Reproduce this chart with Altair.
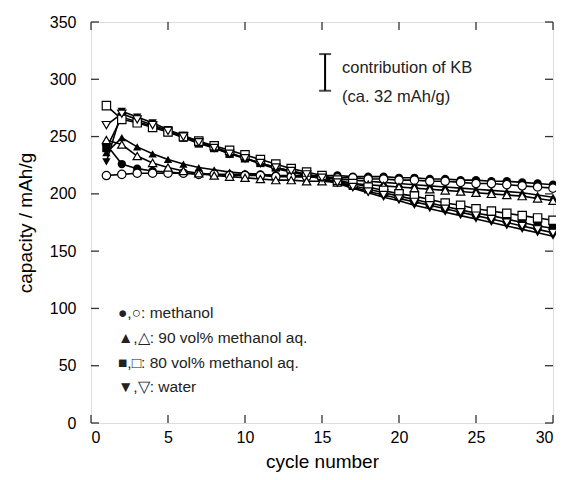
import altair as alt
import pandas as pd

cycles = list(range(1, 31))

methanol_filled = [243, 226, 222, 220, 219, 218, 218, 217, 217, 217, 217, 216, 216, 216, 216,
                   216, 215, 215, 215, 214, 214, 213, 213, 212, 212, 211, 211, 210, 209, 208]
methanol_open = [216, 217, 218, 218, 218, 218, 217, 217, 216, 216, 216, 215, 215, 215, 215,
                 214, 214, 213, 213, 212, 212, 211, 211, 210, 209, 209, 208, 207, 206, 205]
m90_filled = [236, 249, 241, 235, 230, 226, 223, 221, 219, 218, 217, 216, 215, 215, 214,
              213, 212, 211, 210, 209, 208, 207, 206, 205, 204, 203, 202, 201, 199, 197]
m90_open = [247, 243, 233, 227, 223, 220, 218, 216, 215, 214, 213, 212, 212, 211, 211,
            210, 209, 208, 207, 206, 205, 204, 203, 202, 201, 200, 199, 198, 196, 194]
m80_filled = [240, 267, 263, 259, 254, 249, 244, 240, 235, 231, 227, 223, 220, 217, 214,
              210, 207, 204, 201, 198, 195, 192, 189, 186, 183, 181, 178, 175, 172, 170]
m80_open = [277, 265, 262, 258, 254, 250, 246, 242, 238, 234, 230, 226, 222, 219, 216,
            212, 209, 206, 203, 200, 198, 195, 192, 190, 187, 185, 183, 181, 179, 177]
water_filled = [228, 272, 267, 262, 256, 251, 246, 241, 236, 231, 226, 222, 219, 216, 213,
                209, 205, 201, 197, 194, 190, 187, 184, 181, 178, 175, 172, 169, 166, 163]
water_open = [260, 270, 265, 260, 255, 250, 245, 240, 235, 231, 227, 223, 220, 217, 214,
              210, 206, 202, 199, 196, 193, 190, 187, 184, 181, 178, 175, 172, 169, 166]

series = [
    ("methanol", "filled", methanol_filled),
    ("methanol", "open", methanol_open),
    ("90", "filled", m90_filled),
    ("90", "open", m90_open),
    ("80", "filled", m80_filled),
    ("80", "open", m80_open),
    ("water", "filled", water_filled),
    ("water", "open", water_open),
]
solvents = ["methanol", "90", "80", "water"]
shapes = ["circle", "triangle-up", "square", "triangle-down"]

legend_lines = ["●,○: methanol", "▲,△: 90 vol% methanol aq.",
                "■,□: 80 vol% methanol aq.", "▼,▽: water"]
kb_bar = {"x": 15.2, "low": 290, "high": 322}
kb_text = ["contribution of KB", "(ca. 32 mAh/g)"]

x_ticks = [0, 5, 10, 15, 20, 25, 30]
y_ticks = [0, 50, 100, 150, 200, 250, 300, 350]

rows = []
for solv, kind, vals in series:
    for c, v in zip(cycles, vals):
        rows.append({"cycle": c, "cap": v, "solvent": solv, "kind": kind, "sid": solv + kind})
df = pd.DataFrame(rows)

W, H = 462, 401
FONT = "Liberation Sans"
TL = 8

xs = alt.Scale(domain=[0, 30], nice=False)
ys = alt.Scale(domain=[0, 350], nice=False)

base = alt.Chart(df)
lines = base.mark_line(color="black", strokeWidth=1.6).encode(
    x=alt.X("cycle:Q", scale=xs, axis=alt.Axis(values=x_ticks, title="cycle number", ticks=False,
                                               domain=False, grid=False, labelPadding=6,
                                               labelFontSize=16, titleFontSize=19,
                                               titleFontWeight="normal", titlePadding=7)),
    y=alt.Y("cap:Q", scale=ys, axis=alt.Axis(values=y_ticks, title="capacity / mAh/g", ticks=False,
                                             domain=False, grid=False, labelPadding=15,
                                             labelFontSize=16, titleFontSize=19,
                                             titleFontWeight="normal", titlePadding=14)),
    detail="sid:N",
)

shape_enc = alt.Shape("solvent:N", scale=alt.Scale(domain=solvents, range=shapes), legend=None)

filled_pts = base.transform_filter(alt.datum.kind == "filled").mark_point(
    filled=True, color="black", size=70, opacity=1).encode(
    x=alt.X("cycle:Q", scale=xs), y=alt.Y("cap:Q", scale=ys), shape=shape_enc)
open_pts = base.transform_filter(alt.datum.kind == "open").mark_point(
    filled=True, fill="white", stroke="black", strokeWidth=1.2, size=70, opacity=1).encode(
    x=alt.X("cycle:Q", scale=xs), y=alt.Y("cap:Q", scale=ys), shape=shape_enc)

xt = alt.Chart(pd.DataFrame({"v": x_ticks}))
yt = alt.Chart(pd.DataFrame({"v": y_ticks}))
tick_style = dict(color="#333", strokeWidth=1.3)
ticks = (
    xt.mark_rule(**tick_style).encode(x=alt.X("v:Q", scale=xs), y=alt.value(H), y2=alt.value(H - TL))
    + xt.mark_rule(**tick_style).encode(x=alt.X("v:Q", scale=xs), y=alt.value(0), y2=alt.value(TL))
    + yt.mark_rule(**tick_style).encode(y=alt.Y("v:Q", scale=ys), x=alt.value(0), x2=alt.value(TL))
    + yt.mark_rule(**tick_style).encode(y=alt.Y("v:Q", scale=ys), x=alt.value(W - TL), x2=alt.value(W))
)

kb_df = pd.DataFrame([kb_bar])
kb_chart = alt.Chart(kb_df)
kb = (
    kb_chart.mark_rule(color="black", strokeWidth=2).encode(
        x=alt.X("x:Q", scale=xs), y=alt.Y("low:Q", scale=ys), y2="high:Q")
    + kb_chart.mark_tick(orient="horizontal", size=12, thickness=2, color="black").encode(
        x=alt.X("x:Q", scale=xs), y=alt.Y("low:Q", scale=ys))
    + kb_chart.mark_tick(orient="horizontal", size=12, thickness=2, color="black").encode(
        x=alt.X("x:Q", scale=xs), y=alt.Y("high:Q", scale=ys))
)

def text_layer(txt, px, py, size):
    return alt.Chart(pd.DataFrame({"t": [txt]})).mark_text(
        align="left", baseline="middle", font=FONT, fontSize=size, color="#222").encode(
        text="t:N", x=alt.value(px), y=alt.value(py))

kb_y = [46, 75]
leg_y = [291, 316, 341, 365]
text_layers = [text_layer(t, 251, y, 16.5) for t, y in zip(kb_text, kb_y)]
text_layers += [text_layer(t, 27, y, 15.5) for t, y in zip(legend_lines, leg_y)]

chart = alt.layer(lines, filled_pts, open_pts, ticks, kb, *text_layers).properties(
    width=W, height=H, autosize="none",
    padding={"left": 83, "top": 14, "right": 3, "bottom": 49},
).configure_view(stroke="#333", strokeWidth=1.5).configure_axis(
    labelFont=FONT, titleFont=FONT, labelColor="#222", titleColor="#222"
).configure(background="white")

chart.save("out.html", embed_options={"renderer": "svg", "actions": False})
